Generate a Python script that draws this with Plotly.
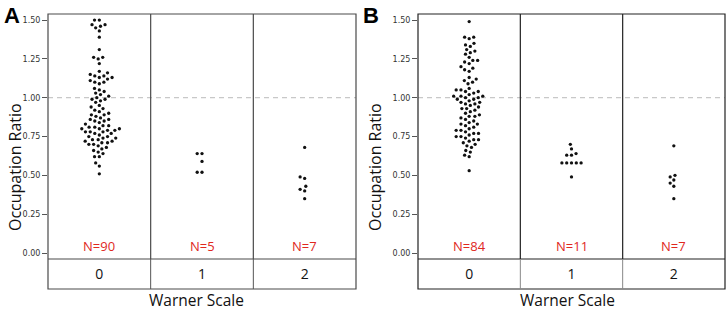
import numpy as np
import plotly.graph_objects as go

categories = ["0", "1", "2"]

panelA_0 = [1.50, 1.50, 1.47, 1.47, 1.46, 1.45, 1.43, 1.39,
            1.31, 1.26, 1.25, 1.26, 1.22, 1.17,
            1.16, 1.15, 1.14, 1.14, 1.13, 1.13, 1.12, 1.11, 1.10, 1.10, 1.09,
            1.06, 1.05, 1.04, 1.03, 1.02, 1.01, 1.00, 0.99, 0.99, 0.98, 0.97,
            0.95, 0.94, 0.93, 0.92, 0.91, 0.90, 0.89, 0.89,
            0.88, 0.87, 0.86, 0.86, 0.85, 0.85, 0.84,
            0.83, 0.82, 0.82, 0.81, 0.81, 0.80, 0.80, 0.80,
            0.79, 0.79, 0.78, 0.78, 0.78, 0.77, 0.77,
            0.76, 0.75, 0.75, 0.74, 0.74, 0.73, 0.73,
            0.72, 0.72, 0.71, 0.71, 0.70, 0.70,
            0.69, 0.68, 0.67, 0.66, 0.65, 0.64, 0.62, 0.62,
            0.58, 0.56, 0.51]
panelA_1 = [0.64, 0.64, 0.59, 0.52, 0.52]
panelA_2 = [0.68, 0.49, 0.48, 0.43, 0.41, 0.40, 0.35]

panelB_0 = [1.49, 1.39, 1.38, 1.39, 1.35, 1.34, 1.33,
            1.31, 1.30, 1.29, 1.28, 1.26, 1.24, 1.24, 1.23, 1.22,
            1.20, 1.19, 1.18, 1.17, 1.13, 1.12, 1.11, 1.10, 1.09,
            1.06, 1.05, 1.04, 1.04, 1.05, 1.03, 1.02,
            1.01, 1.01, 1.00, 1.00, 1.01, 0.99,
            0.99, 0.98, 0.97, 0.97, 0.96, 0.96,
            0.95, 0.94, 0.93, 0.93, 0.92, 0.91,
            0.90, 0.89, 0.88, 0.88, 0.87, 0.86,
            0.85, 0.84, 0.83, 0.83, 0.82, 0.81,
            0.80, 0.79, 0.79, 0.78, 0.77, 0.77,
            0.76, 0.75, 0.75, 0.74, 0.73, 0.73, 0.72,
            0.71, 0.70, 0.69, 0.68, 0.66, 0.65, 0.63, 0.62, 0.53]
panelB_1 = [0.70, 0.67, 0.63, 0.63, 0.64, 0.58, 0.58, 0.58, 0.58, 0.58, 0.49]
panelB_2 = [0.69, 0.50, 0.49, 0.47, 0.45, 0.43, 0.35]

panels = [("A", [panelA_0, panelA_1, panelA_2]),
          ("B", [panelB_0, panelB_1, panelB_2])]

W, H = 728, 310
# panel geometry in pixels
PX = [(48, 356), (418, 725)]
TOP, DATA_BOT, BAND_BOT = 14, 259, 289
YMIN, YMAX = -0.0386, 1.539
Y_PX_PER_UNIT = (DATA_BOT - TOP) / (YMAX - YMIN)


def swarm_offsets(vals, d, x_px_per_unit):
    """Beeswarm layout: returns horizontal offsets (data units)."""
    vals = np.asarray(vals, float)
    order = np.argsort(vals)
    placed = []
    offs = np.zeros(len(vals))
    for i in order:
        y = vals[i] * Y_PX_PER_UNIT
        cands = [0.0]
        near = [(px, py) for px, py in placed if abs(py - y) < d]
        for px, py in near:
            dx = np.sqrt(max(d * d - (py - y) ** 2, 0))
            cands += [px + dx, px - dx]
        cands.sort(key=lambda c: (abs(c), c))
        for c in cands:
            if all((c - px) ** 2 + (y - py) ** 2 >= d * d - 1e-6 for px, py in near):
                break
        placed.append((c, y))
        offs[i] = c / x_px_per_unit
    return offs


fig = go.Figure()
annotations = []
shapes = []

for p, (label, groups) in enumerate(panels):
    xa = "x" if p == 0 else "x2"
    ya = "y" if p == 0 else "y2"
    x0, x1 = PX[p]
    x_px_per_unit = (x1 - x0) / 3.0
    for gi, vals in enumerate(groups):
        offs = swarm_offsets(vals, 4.8, x_px_per_unit)
        fig.add_trace(go.Scatter(
            x=gi + offs, y=vals, mode="markers",
            marker=dict(size=3.3, color="#111111"),
            xaxis=xa, yaxis=ya, showlegend=False, hoverinfo="y"))
        annotations.append(dict(
            x=gi, y=0.045, xref=xa, yref=ya, text=f"N={len(vals)}",
            showarrow=False, font=dict(family="Open Sans", size=13, color="#e0281e"),
            xanchor="center", yanchor="middle"))
    lc = "#4a4a4a" if p == 0 else "#222222"
    xd = xa + " domain"
    ytop = 1 - TOP / H
    ybot = 1 - BAND_BOT / H
    ydat = 1 - DATA_BOT / H
    shapes.append(dict(type="rect", xref=xd, yref="paper", x0=0, x1=1, y0=ybot, y1=ytop,
                       line=dict(color=lc, width=1.2)))
    shapes.append(dict(type="line", xref=xd, yref="paper", x0=0, x1=1, y0=ydat, y1=ydat,
                       line=dict(color=lc, width=1.2)))
    for xv in (0.5, 1.5):
        shapes.append(dict(type="line", xref=xa, yref="paper", x0=xv, x1=xv, y0=ydat, y1=ytop,
                           line=dict(color=lc, width=1.2)))
        shapes.append(dict(type="line", xref=xa, yref="paper", x0=xv, x1=xv, y0=ybot, y1=ydat,
                           line=dict(color="#555555" if p == 0 else "#888888", width=1)))
    shapes.append(dict(type="line", xref=xd, yref=ya, x0=0, x1=1, y0=1.0, y1=1.0,
                       line=dict(color="#c8c8c8", width=1.2, dash="5px,4px"), layer="below"))
    # panel letter
    annotations.append(dict(x=(2 if p == 0 else 361) / W, y=1 - 1 / H, xref="paper", yref="paper",
                            text=f"<b>{label}</b>", showarrow=False, xanchor="left", yanchor="top",
                            font=dict(family="Liberation Sans", size=22, color="#000")))
    # y title
    annotations.append(dict(x=((15 if p == 0 else 375)) / W, y=1 - 167 / H, xref="paper", yref="paper",
                            text="Occupation Ratio", textangle=-90, showarrow=False,
                            xanchor="center", yanchor="middle",
                            font=dict(family="Open Sans", size=16, color="#111")))
    # x title
    annotations.append(dict(x=((196 if p == 0 else 567)) / W, y=1 - 300 / H, xref="paper", yref="paper",
                            text="Warner Scale", showarrow=False,
                            xanchor="center", yanchor="middle",
                            font=dict(family="Open Sans", size=15.5, color="#111")))

ydomain = [1 - DATA_BOT / H, 1 - TOP / H]
common_x = dict(range=[-0.5, 2.5], tickvals=[0, 1, 2], ticktext=categories,
                showgrid=False, zeroline=False, showline=False, ticks="",
                tickfont=dict(family="Open Sans", size=14, color="#111"),
                ticklabelstandoff=5, fixedrange=True)
yticks = [0, 0.25, 0.5, 0.75, 1.0, 1.25, 1.5]
common_y = dict(range=[YMIN, YMAX], domain=ydomain, tickvals=yticks,
                ticktext=[f"{v:.2f}" for v in yticks],
                showgrid=False, zeroline=False, showline=False,
                ticks="outside", ticklen=5, tickcolor="#555", tickwidth=1,
                tickfont=dict(family="DejaVu Sans", size=8, color="#333"))

fig.update_layout(
    width=W, height=H, autosize=False,
    margin=dict(l=0, r=0, t=0, b=0),
    plot_bgcolor="white", paper_bgcolor="white",
    xaxis=dict(domain=[PX[0][0] / W, PX[0][1] / W], anchor="y", **common_x),
    yaxis=dict(anchor="x", **common_y),
    xaxis2=dict(domain=[PX[1][0] / W, PX[1][1] / W], anchor="y2", **common_x),
    yaxis2=dict(anchor="x2", **common_y),
    shapes=shapes, annotations=annotations,
)

fig.write_html("out.html", config={"displayModeBar": False},
               post_script="document.body.style.margin='0';document.body.style.overflow='hidden';")
